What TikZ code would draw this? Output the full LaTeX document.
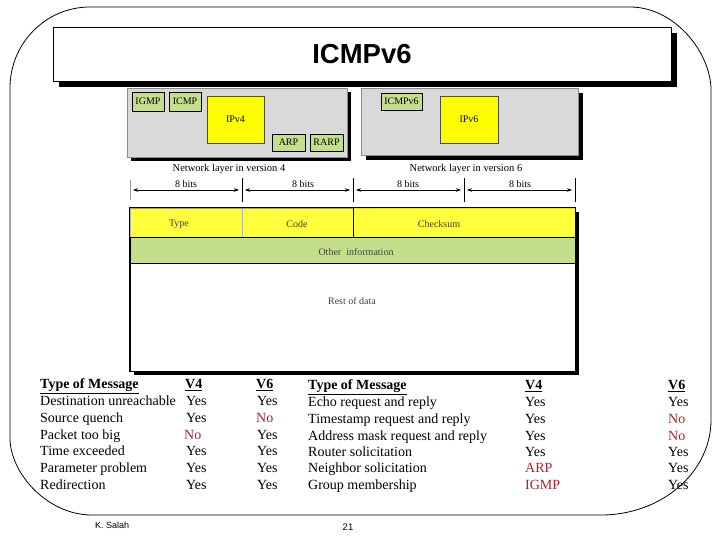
\documentclass[tikz,border=0pt]{standalone}
\usepackage{fontspec}
\setmainfont{Liberation Serif}
\setsansfont{Liberation Sans}
\usetikzlibrary{arrows.meta,shadows}
\definecolor{graybox}{RGB}{217,217,217}
\definecolor{greenbox}{RGB}{196,223,140}
\definecolor{yel}{RGB}{255,255,0}
\definecolor{hyel}{RGB}{255,255,60}
\definecolor{nored}{RGB}{170,35,45}
\begin{document}
\begin{tikzpicture}[x=1pt,y=-1pt,
  shad/.style={drop shadow={shadow xshift=#1, shadow yshift=-#1, opacity=1, fill=black}},
  layerbox/.style={draw=black!45, fill=graybox, line width=0.5pt, inner sep=0pt},
  proto/.style={draw=black, fill=greenbox, line width=0.6pt, inner sep=0pt, font=\fontsize{10}{12}\selectfont},
  ipbox/.style={draw=black!70, fill=yel, line width=0.6pt, inner sep=0pt, font=\fontsize{10}{12}\selectfont},
  lbl/.style={inner sep=0pt, font=\fontsize{10.5}{12}\selectfont},
  bits/.style={inner sep=0pt, font=\fontsize{10}{12}\selectfont},
  fld/.style={inner sep=0pt, text=black!75, font=\fontsize{10}{12}\selectfont},
  dim/.style={{Stealth[length=5pt,width=3.5pt]}-{Stealth[length=5pt,width=3.5pt]}, line width=0.5pt},
  tick/.style={line width=0.5pt},
  tb/.style={anchor=west, inner sep=0pt, text height=10pt, text depth=3pt, font=\fontsize{14}{16}\selectfont},
  tbh/.style={tb, font=\fontsize{14}{16}\selectfont\bfseries},
  no/.style={tb, text=nored}
]
\useasboundingbox (0,0) rectangle (720,540);

% outer rounded frame
\draw[line width=0.8pt] (10,88) .. controls (10,43) and (46,7) .. (90,7) -- (630,7)
  .. controls (675,7) and (711,53) .. (711,90) -- (711,420)
  .. controls (711,472) and (662,515) .. (601,515) -- (92,515)
  .. controls (47,515) and (10,473) .. (10,438) -- cycle;

% network layer boxes
\node[layerbox, shad=4pt, minimum width=220pt, minimum height=69pt] (nl4) at (237,122.5) {};
\node[layerbox, shad=5pt, minimum width=217pt, minimum height=67pt] (nl6) at (469.5,121.5) {};

% title
\node[draw=black, line width=0.8pt, fill=white, shad=6pt, minimum width=618pt, minimum height=54pt,
      font=\sffamily\bfseries\fontsize{27.5}{30}\selectfont] (title) at (362,54) {ICMPv6};

% v4 protocols
\node[proto, minimum width=32pt, minimum height=19pt] (igmp) at (148,101.5) {IGMP};
\node[proto, minimum width=32pt, minimum height=19pt] (icmp) at (185,101.5) {ICMP};
\node[ipbox, minimum width=57pt, minimum height=47pt] (ipv4) at (235.5,119.5) {IPv4};
\node[proto, minimum width=33pt, minimum height=17pt] (arp) at (288.5,142.5) {ARP};
\node[proto, minimum width=33pt, minimum height=17pt] (rarp) at (326.5,142.5) {RARP};
% v6 protocols
\node[proto, minimum width=41pt, minimum height=17pt] (icmpv6) at (401.5,101.5) {ICMPv6};
\node[ipbox, minimum width=58pt, minimum height=47pt] (ipv6) at (469,119.5) {IPv6};

\node[lbl] (cap4) at (229,169) {Network layer in version 4};
\node[lbl] (cap6) at (466,169) {Network layer in version 6};

% bit dimension lines
\foreach \i/\x in {0/130,1/242,2/353,3/464,4/575}{
  \coordinate (a\i) at (\x,190);
}
\draw[tick, black!40] (130,180) -- (130,200);
\foreach \x in {242,353,464,575}{ \draw[tick] (\x,178) -- (\x,202); }
\draw[dim] ([xshift=3pt]a0) -- ([xshift=-3pt]a1);
\draw[dim] ([xshift=3pt]a1) -- ([xshift=-3pt]a2);
\draw[dim] ([xshift=3pt]a2) -- ([xshift=-3pt]a3);
\draw[dim] ([xshift=3pt]a3) -- ([xshift=-3pt]a4);
\node[bits] (b1) at (186,184) {8 bits};
\node[bits] (b2) at (303,184) {8 bits};
\node[bits] (b3) at (408,184) {8 bits};
\node[bits] (b4) at (520,184) {8 bits};

% ICMP header
\node[draw=black, line width=0.6pt, fill=white, shad=4pt, minimum width=445pt, minimum height=163pt, inner sep=0pt] (hdr) at (352.5,289.5) {};
\node[draw=black!30, fill=hyel, line width=0.5pt, minimum width=112pt, minimum height=29pt, inner sep=0pt] (ftype) at (186,222.5) {};
\node[draw=black!30, fill=hyel, line width=0.5pt, minimum width=111pt, minimum height=29pt, inner sep=0pt] (fcode) at (297.5,222.5) {};
\node[fill=hyel, minimum width=222pt, minimum height=29pt, inner sep=0pt] (fcks) at (464,222.5) {};
\draw[line width=0.6pt] (fcks.north west) -- (fcks.south west);
\node[draw=black, fill=greenbox, line width=0.6pt, minimum width=445pt, minimum height=26pt, inner sep=0pt] (fother) at (352.5,250) {};
\draw[line width=0.6pt] (hdr.north west) rectangle (hdr.south east);
\draw[line width=0.6pt] (ftype.north west) -- (fcks.north east);
\node[fld] (ltype) at (179,224) {Type};
\node[fld] (lcode) at (297,224) {Code};
\node[fld] (lcks) at (439,224) {Checksum};
\node[fld] (lother) at (356,252) {Other\ \ information};
\node[fld] (lrest) at (352,301) {Rest of data};

% left table
\node[tbh] (h1) at (40,385) {\underline{Type of Message}};
\node[tbh] (h1v4) at (185,385) {\underline{V4}};
\node[tbh] (h1v6) at (256,385) {\underline{V6}};
\node[tb] (r11) at (40,402) {Destination unreachable};
\node[tb] (r12) at (40,419) {Source quench};
\node[tb] (r13) at (40,436) {Packet too big};
\node[tb] (r14) at (40,452) {Time exceeded};
\node[tb] (r15) at (40,469) {Parameter problem};
\node[tb] (r16) at (40,486) {Redirection};
\node[tb] (v411) at (186,402) {Yes};
\node[tb] (v412) at (186,419) {Yes};
\node[no] (v413) at (184,436) {No};
\node[tb] (v414) at (186,452) {Yes};
\node[tb] (v415) at (186,469) {Yes};
\node[tb] (v416) at (186,486) {Yes};
\node[tb] (v611) at (257,402) {Yes};
\node[no] (v612) at (256,419) {No};
\node[tb] (v613) at (257,436) {Yes};
\node[tb] (v614) at (257,452) {Yes};
\node[tb] (v615) at (257,469) {Yes};
\node[tb] (v616) at (257,486) {Yes};

% right table
\node[tbh] (h2) at (308,386) {\underline{Type of Message}};
\node[tbh] (h2v4) at (525,386) {\underline{V4}};
\node[tbh] (h2v6) at (668,386) {\underline{V6}};
\node[tb] (r21) at (308,403) {Echo request and reply};
\node[tb] (r22) at (308,420) {Timestamp request and reply};
\node[tb] (r23) at (308,437) {Address mask request and reply};
\node[tb] (r24) at (308,453) {Router solicitation};
\node[tb] (r25) at (308,469) {Neighbor solicitation};
\node[tb] (r26) at (308,486) {Group membership};
\node[tb] (v421) at (525,403) {Yes};
\node[tb] (v422) at (525,420) {Yes};
\node[tb] (v423) at (525,437) {Yes};
\node[tb] (v424) at (525,453) {Yes};
\node[no] (v425) at (525,469) {ARP};
\node[no] (v426) at (525,486) {IGMP};
\node[tb] (v621) at (668,403) {Yes};
\node[no] (v622) at (668,420) {No};
\node[no] (v623) at (668,437) {No};
\node[tb] (v624) at (668,453) {Yes};
\node[tb] (v625) at (668,469) {Yes};
\node[tb] (v626) at (668,486) {Yes};

% footer
\node[anchor=west, inner sep=0pt, font=\sffamily\fontsize{9}{10}\selectfont] (auth) at (95,525) {K. Salah};
\node[inner sep=0pt, font=\sffamily\fontsize{9.5}{10}\selectfont] (page) at (348,527) {21};
\end{tikzpicture}
\end{document}
